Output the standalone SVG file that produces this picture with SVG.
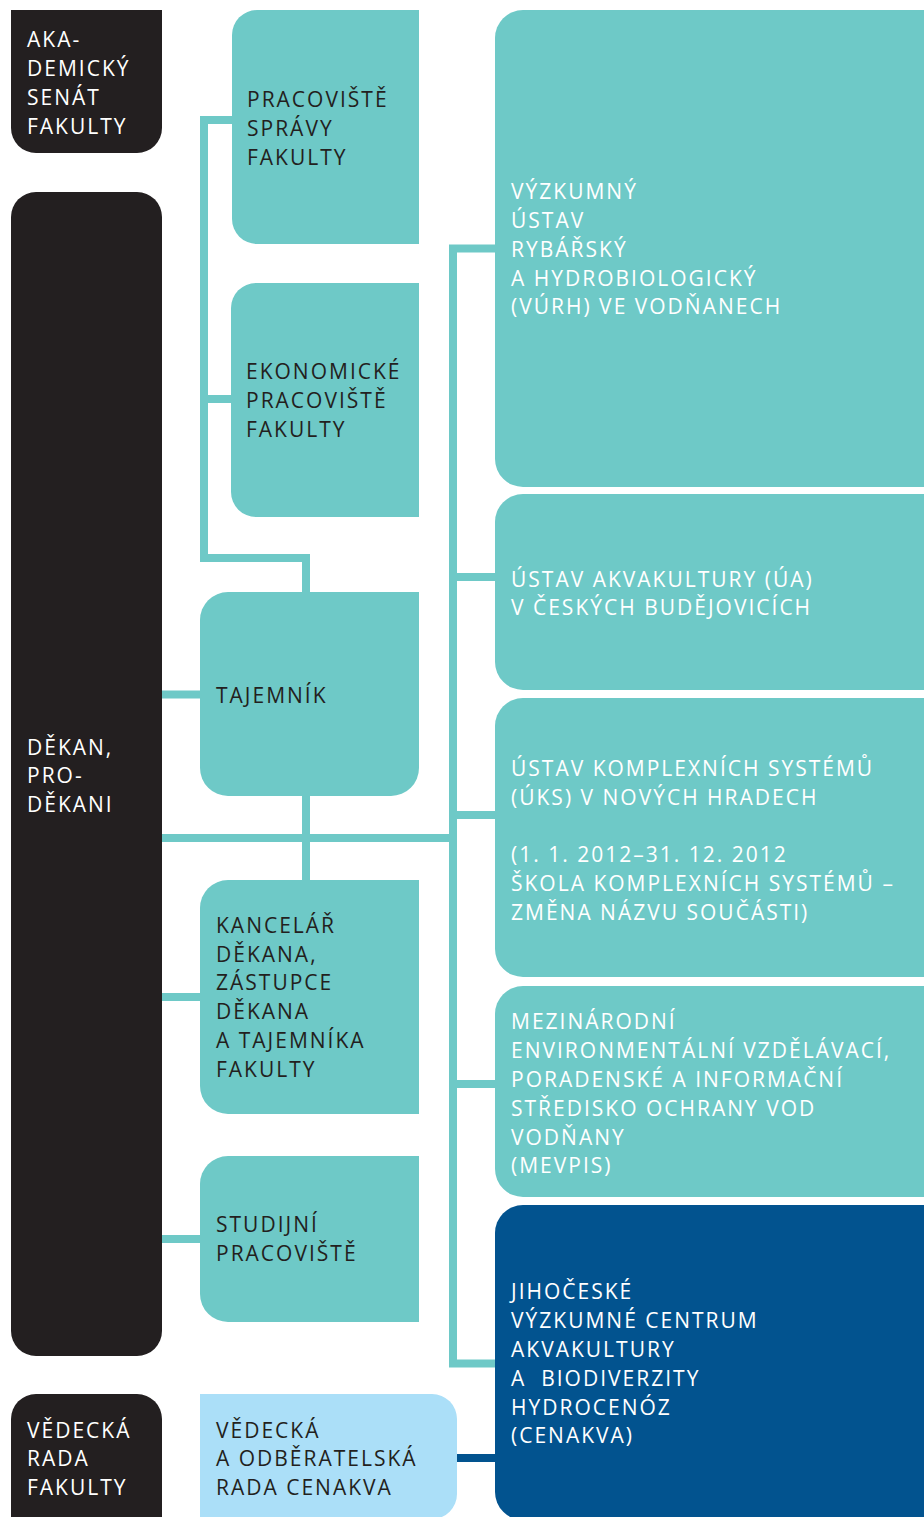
<svg xmlns="http://www.w3.org/2000/svg" width="924" height="1517" viewBox="0 0 924 1517">
<style>
.bk{fill:#231F20}
.tl{fill:#6EC9C7}
.db{fill:#02538F}
.lb{fill:#ABDFF8}
text{font-family:"Open Sans","Noto Sans","DejaVu Sans",sans-serif;font-size:21px;letter-spacing:2px;white-space:pre}
.w{fill:#FFFFFF}
.d{fill:#231F20}
.c{fill:none;stroke:#6EC9C7;stroke-width:8;stroke-linejoin:miter}
.cb{fill:none;stroke:#02538F;stroke-width:8}
</style>
<rect width="924" height="1517" fill="#FFFFFF"/>
<g id="connectors">
<path class="c" d="M232 120 H204 V558 H306 V592"/>
<path class="c" d="M204 399 H231"/>
<path class="c" d="M162 694.5 H200"/>
<path class="c" d="M162 838 H453"/>
<path class="c" d="M306 796 V880"/>
<path class="c" d="M495 248.5 H453 V1363.5 H495"/>
<path class="c" d="M453 577 H495"/>
<path class="c" d="M453 815 H495"/>
<path class="c" d="M453 1084 H495"/>
<path class="c" d="M162 997 H200"/>
<path class="c" d="M162 1239 H200"/>
<path class="cb" d="M457 1458 H495"/>
</g>
<g id="senat">
<path class="bk" d="M11 10 H162 V128 A25 25 0 0 1 137 153 H36 A25 25 0 0 1 11 128 Z"/>
<text class="w" x="27" y="47">AKA-</text>
<text class="w" x="27" y="76">DEMICKÝ</text>
<text class="w" x="27" y="105">SENÁT</text>
<text class="w" x="27" y="134">FAKULTY</text>
</g>
<g id="dekan">
<rect class="bk" x="11" y="192" width="151" height="1164" rx="25" ry="25"/>
<text class="w" x="27" y="755">DĚKAN,</text>
<text class="w" x="27" y="783">PRO-</text>
<text class="w" x="27" y="812">DĚKANI</text>
</g>
<g id="vedecka-rada">
<path class="bk" d="M11 1530 V1419 A25 25 0 0 1 36 1394 H137 A25 25 0 0 1 162 1419 V1530 Z"/>
<text class="w" x="27" y="1438">VĚDECKÁ</text>
<text class="w" x="27" y="1466">RADA</text>
<text class="w" x="27" y="1495">FAKULTY</text>
</g>
<g id="pracoviste-spravy">
<path class="tl" d="M257 10 H419 V244 H257 A25 25 0 0 1 232 219 V35 A25 25 0 0 1 257 10 Z"/>
<text class="d" x="247" y="107">PRACOVIŠTĚ</text>
<text class="d" x="247" y="136">SPRÁVY</text>
<text class="d" x="247" y="165">FAKULTY</text>
</g>
<g id="ekonomicke">
<path class="tl" d="M256 283 H419 V517 H256 A25 25 0 0 1 231 492 V308 A25 25 0 0 1 256 283 Z"/>
<text class="d" x="246" y="379">EKONOMICKÉ</text>
<text class="d" x="246" y="408">PRACOVIŠTĚ</text>
<text class="d" x="246" y="437">FAKULTY</text>
</g>
<g id="tajemnik">
<path class="tl" d="M228 592 H419 V768 A28 28 0 0 1 391 796 H228 A28 28 0 0 1 200 768 V620 A28 28 0 0 1 228 592 Z"/>
<text class="d" x="216" y="703">TAJEMNÍK</text>
</g>
<g id="kancelar">
<path class="tl" d="M228 880 H419 V1114 H228 A28 28 0 0 1 200 1086 V908 A28 28 0 0 1 228 880 Z"/>
<text class="d" x="216" y="933">KANCELÁŘ</text>
<text class="d" x="216" y="962">DĚKANA,</text>
<text class="d" x="216" y="990">ZÁSTUPCE</text>
<text class="d" x="216" y="1019">DĚKANA</text>
<text class="d" x="216" y="1048">A TAJEMNÍKA</text>
<text class="d" x="216" y="1077">FAKULTY</text>
</g>
<g id="studijni">
<path class="tl" d="M228 1156 H419 V1322 H228 A28 28 0 0 1 200 1294 V1184 A28 28 0 0 1 228 1156 Z"/>
<text class="d" x="216" y="1232">STUDIJNÍ</text>
<text class="d" x="216" y="1261">PRACOVIŠTĚ</text>
</g>
<g id="rada-cenakva">
<path class="lb" d="M200 1394 H432 A25 25 0 0 1 457 1419 V1494 A25 25 0 0 1 432 1519 H200 Z"/>
<text class="d" x="216" y="1438">VĚDECKÁ</text>
<text class="d" x="216" y="1466">A ODBĚRATELSKÁ</text>
<text class="d" x="216" y="1495">RADA CENAKVA</text>
</g>
<g id="vurh">
<path class="tl" d="M523 10 H930 V487 H523 A28 28 0 0 1 495 459 V38 A28 28 0 0 1 523 10 Z"/>
<text class="w" x="511" y="199">VÝZKUMNÝ</text>
<text class="w" x="511" y="228">ÚSTAV</text>
<text class="w" x="511" y="257">RYBÁŘSKÝ</text>
<text class="w" x="511" y="286">A HYDROBIOLOGICKÝ</text>
<text class="w" x="511" y="314">(VÚRH) VE VODŇANECH</text>
</g>
<g id="ua">
<path class="tl" d="M523 494 H930 V690 H523 A28 28 0 0 1 495 662 V522 A28 28 0 0 1 523 494 Z"/>
<text class="w" x="511" y="587">ÚSTAV AKVAKULTURY (ÚA)</text>
<text class="w" x="511" y="615">V ČESKÝCH BUDĚJOVICÍCH</text>
</g>
<g id="uks">
<path class="tl" d="M523 698 H930 V977 H523 A28 28 0 0 1 495 949 V726 A28 28 0 0 1 523 698 Z"/>
<text class="w" x="511" y="776">ÚSTAV KOMPLEXNÍCH SYSTÉMŮ</text>
<text class="w" x="511" y="805">(ÚKS) V NOVÝCH HRADECH</text>
<text class="w" x="511" y="862">(1. 1. 2012–31. 12. 2012</text>
<text class="w" x="511" y="891">ŠKOLA KOMPLEXNÍCH SYSTÉMŮ –</text>
<text class="w" x="511" y="920">ZMĚNA NÁZVU SOUČÁSTI)</text>
</g>
<g id="mevpis">
<path class="tl" d="M523 986 H930 V1197 H523 A28 28 0 0 1 495 1169 V1014 A28 28 0 0 1 523 986 Z"/>
<text class="w" x="511" y="1029">MEZINÁRODNÍ</text>
<text class="w" x="511" y="1058">ENVIRONMENTÁLNÍ VZDĚLÁVACÍ,</text>
<text class="w" x="511" y="1087">PORADENSKÉ A INFORMAČNÍ</text>
<text class="w" x="511" y="1116">STŘEDISKO OCHRANY VOD</text>
<text class="w" x="511" y="1145">VODŇANY</text>
<text class="w" x="511" y="1173">(MEVPIS)</text>
</g>
<g id="cenakva">
<path class="db" d="M523 1205 H930 V1520 H523 A28 28 0 0 1 495 1492 V1233 A28 28 0 0 1 523 1205 Z"/>
<text class="w" x="511" y="1299">JIHOČESKÉ</text>
<text class="w" x="511" y="1328">VÝZKUMNÉ CENTRUM</text>
<text class="w" x="511" y="1357">AKVAKULTURY</text>
<text class="w" x="511" y="1386">A  BIODIVERZITY</text>
<text class="w" x="511" y="1415">HYDROCENÓZ</text>
<text class="w" x="511" y="1443">(CENAKVA)</text>
</g>
</svg>
